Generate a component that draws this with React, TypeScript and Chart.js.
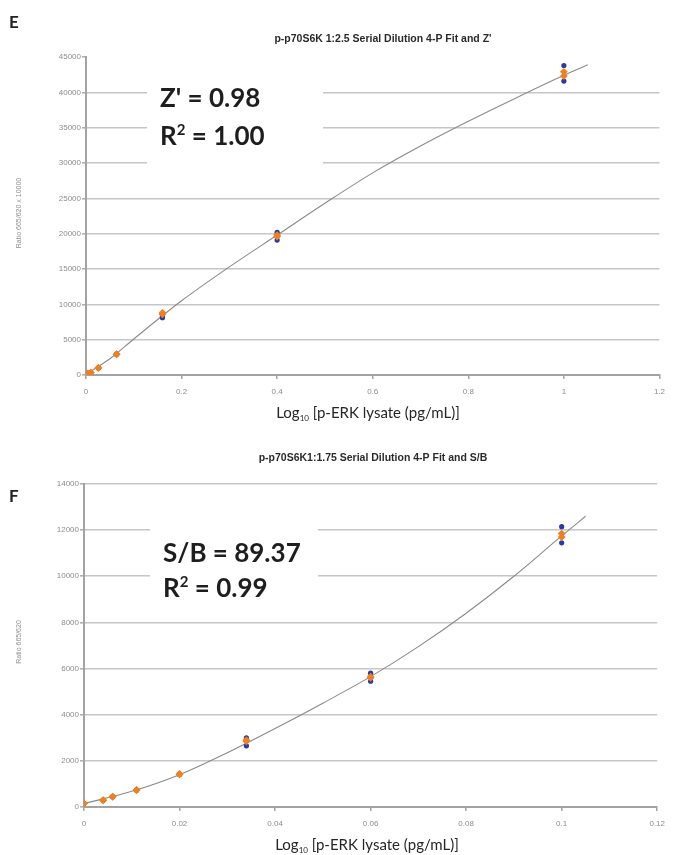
import React, { useEffect, useRef } from "react";
import { Chart, registerables } from "chart.js";

Chart.register(...registerables);

// ---------- Panel E data ----------
const eTitle = "p-p70S6K 1:2.5 Serial Dilution 4-P Fit and Z'";
const eYTitle = "Ratio 665/620 x 10000";
const eDose = [0, 0.004, 0.01, 0.026, 0.064, 0.16, 0.4, 1];
const eBlue1 = [100, 190, 310, 1010, 2950, 8100, 19100, 43800];
const eBlue2 = [120, 210, 330, 1000, 2920, 8300, 20200, 41600];
const eOrange1 = [100, 190, 310, 1010, 2950, 8800, 19600, 42900];
const eOrange2 = [120, 210, 330, 1000, 2920, 8600, 19800, 42300];
const eFitX = [0, 0.05, 0.1, 0.2, 0.3, 0.4, 0.5, 0.6, 0.7, 0.8, 0.9, 1.0, 1.05];
const eFitY = [100, 2300, 5100, 10500, 15300, 19800, 24300, 28600, 32400, 35900, 39200, 42400, 43900];
const eXTicks = [0, 0.2, 0.4, 0.6, 0.8, 1, 1.2];
const eYTicks = [0, 5000, 10000, 15000, 20000, 25000, 30000, 35000, 40000, 45000];
const eStat1 = ["Z' = 0.98"];
const eStat2 = ["1.00"];

// ---------- Panel F data ----------
const fTitle = "p-p70S6K1:1.75 Serial Dilution 4-P Fit and S/B";
const fYTitle = "Ratio 665/620";
const fDose = [0, 0.004, 0.006, 0.011, 0.02, 0.034, 0.06, 0.1];
const fBlue1 = [150, 300, 450, 740, 1430, 3000, 5800, 12150];
const fBlue2 = [160, 290, 440, 730, 1410, 2650, 5450, 11450];
const fOrange1 = [150, 300, 450, 740, 1430, 2850, 5600, 11700];
const fOrange2 = [160, 290, 440, 730, 1410, 2900, 5650, 11850];
const fFitX = [0, 0.01, 0.02, 0.03, 0.04, 0.05, 0.06, 0.07, 0.08, 0.09, 0.1, 0.105];
const fFitY = [150, 680, 1400, 2350, 3400, 4500, 5650, 6950, 8400, 10000, 11750, 12600];
const fXTicks = [0, 0.02, 0.04, 0.06, 0.08, 0.1, 0.12];
const fYTicks = [0, 2000, 4000, 6000, 8000, 10000, 12000, 14000];
const fStat1 = ["S/B = 89.37"];
const fStat2 = ["0.99"];

const xTitleParts = ["Log", "10", " [p-ERK lysate (pg/mL)]"];

const BLUE = "#2b3aa3";
const ORANGE = "#f07f1f";

function pts(xs: number[], ys: number[]) {
  return xs.map((x, i) => ({ x, y: ys[i] }));
}

function drawRuns(ctx: CanvasRenderingContext2D, runs: { t: string; font: string; dy: number }[], cx: number, y: number, align: "center" | "left") {
  let total = 0;
  const widths = runs.map((r) => {
    ctx.font = r.font;
    const w = ctx.measureText(r.t).width;
    total += w;
    return w;
  });
  let x = align === "center" ? cx - total / 2 : cx;
  runs.forEach((r, i) => {
    ctx.font = r.font;
    ctx.fillText(r.t, x, y + r.dy);
    x += widths[i];
  });
}

interface PanelCfg {
  letter: string;
  letterY: number;
  title: string;
  titleY: number;
  titleX: number;
  yTitle: string;
  yTitleY: number;
  box: [number, number, number, number];
  stat1: string;
  stat2: string;
  statX: number;
  stat1Y: number;
  stat2Y: number;
  xTitleY: number;
  xTitleX: number;
}

function decor(cfg: PanelCfg) {
  return {
    id: "decor",
    beforeDatasetsDraw(chart: any) {
      const ctx = chart.ctx as CanvasRenderingContext2D;
      ctx.save();
      ctx.fillStyle = "#ffffff";
      ctx.fillRect(cfg.box[0], cfg.box[1], cfg.box[2], cfg.box[3]);
      ctx.restore();
    },
    afterDraw(chart: any) {
      const ctx = chart.ctx as CanvasRenderingContext2D;
      ctx.save();
      ctx.textBaseline = "alphabetic";
      ctx.fillStyle = "#222";
      ctx.textAlign = "left";
      ctx.font = "bold 17px Lato, 'Open Sans', sans-serif";
      ctx.fillText(cfg.letter, 9, cfg.letterY);
      ctx.fillStyle = "#2a2a2a";
      ctx.textAlign = "center";
      ctx.font = "bold 10.5px Arial, 'Liberation Sans', sans-serif";
      ctx.fillText(cfg.title, cfg.titleX, cfg.titleY);
      ctx.textAlign = "left";
      ctx.fillStyle = "#1e1e1e";
      const big = "bold 26px Lato, sans-serif";
      const small = "bold 15px Lato, sans-serif";
      ctx.font = big;
      ctx.fillText(cfg.stat1, cfg.statX, cfg.stat1Y);
      drawRuns(
        ctx,
        [
          { t: "R", font: big, dy: 0 },
          { t: "2", font: small, dy: -10 },
          { t: " = " + cfg.stat2, font: big, dy: 0 },
        ],
        cfg.statX,
        cfg.stat2Y,
        "left"
      );
      ctx.fillStyle = "#262626";
      drawRuns(
        ctx,
        [
          { t: xTitleParts[0], font: "15px Lato, sans-serif", dy: 0 },
          { t: xTitleParts[1], font: "8px Lato, sans-serif", dy: 3 },
          { t: xTitleParts[2], font: "15px Lato, sans-serif", dy: 0 },
        ],
        cfg.xTitleX,
        cfg.xTitleY,
        "center"
      );
      ctx.save();
      ctx.translate(21, cfg.yTitleY);
      ctx.rotate(-Math.PI / 2);
      ctx.textAlign = "center";
      ctx.fillStyle = "#8f8f8f";
      ctx.font = "7px Arial, sans-serif";
      ctx.fillText(cfg.yTitle, 0, 0);
      ctx.restore();
      ctx.restore();
    },
  };
}

function fmt(v: number) {
  return String(Number(v.toFixed(3)));
}

function makeConfig(o: {
  dose: number[];
  b1: number[];
  b2: number[];
  o1: number[];
  o2: number[];
  fitX: number[];
  fitY: number[];
  xTicks: number[];
  yTicks: number[];
  yWidth: number;
  xHeight: number;
  padTop: number;
  padRight: number;
  hideTopGrid: boolean;
  cfg: PanelCfg;
}) {
  const xMax = o.xTicks[o.xTicks.length - 1];
  const yMax = o.yTicks[o.yTicks.length - 1];
  const xStep = o.xTicks[1] - o.xTicks[0];
  const yStep = o.yTicks[1] - o.yTicks[0];
  // Chart.js paints the first dataset on top, so orange comes first and the fit line last.
  return {
    type: "scatter" as const,
    data: {
      datasets: [
        { label: "rep3", data: pts(o.dose, o.o1), pointStyle: "rectRot", pointRadius: 3.9, backgroundColor: ORANGE, borderColor: ORANGE, borderWidth: 0 },
        { label: "rep4", data: pts(o.dose, o.o2), pointStyle: "rectRot", pointRadius: 3.9, backgroundColor: ORANGE, borderColor: ORANGE, borderWidth: 0 },
        { label: "rep1", data: pts(o.dose, o.b1), pointStyle: "circle", pointRadius: 2.6, backgroundColor: BLUE, borderColor: BLUE, borderWidth: 0 },
        { label: "rep2", data: pts(o.dose, o.b2), pointStyle: "circle", pointRadius: 2.6, backgroundColor: BLUE, borderColor: BLUE, borderWidth: 0 },
        {
          label: "fit",
          data: pts(o.fitX, o.fitY),
          showLine: true,
          borderColor: "#8a8a8a",
          borderWidth: 1.1,
          pointRadius: 0,
          cubicInterpolationMode: "monotone",
          fill: false,
        },
      ],
    },
    options: {
      responsive: false,
      animation: false as const,
      devicePixelRatio: 1,
      layout: { padding: { top: o.padTop, right: o.padRight, left: 0, bottom: 0 } },
      plugins: { legend: { display: false }, tooltip: { enabled: false }, title: { display: false } },
      scales: {
        x: {
          type: "linear" as const,
          min: 0,
          max: xMax,
          afterBuildTicks: (s: any) => {
            s.ticks = o.xTicks.map((v) => ({ value: v }));
          },
          ticks: {
            stepSize: xStep,
            autoSkip: false,
            maxRotation: 0,
            color: "#8c8c8c",
            font: { family: "Arial, sans-serif", size: 8 },
            padding: 8,
            callback: (v: any) => fmt(Number(v)),
          },
          grid: { drawOnChartArea: false, drawTicks: true, tickLength: 4, color: "#a3a3a3", lineWidth: 1.5 },
          border: { color: "#a3a3a3", width: 2 },
          afterFit: (s: any) => {
            s.height = o.xHeight;
          },
        },
        y: {
          type: "linear" as const,
          min: 0,
          max: yMax,
          afterBuildTicks: (s: any) => {
            s.ticks = o.yTicks.map((v) => ({ value: v }));
          },
          ticks: {
            stepSize: yStep,
            autoSkip: false,
            color: "#8c8c8c",
            font: { family: "Arial, sans-serif", size: 8 },
            padding: 1,
            callback: (v: any) => fmt(Number(v)),
          },
          grid: {
            drawTicks: true,
            tickLength: 4,
            lineWidth: 1.6,
            color: (c: any) => (o.hideTopGrid && c.tick && c.tick.value === yMax ? "rgba(0,0,0,0)" : "#c6c6c6"),
            tickColor: "#b0b0b0",
          },
          border: { color: "#a3a3a3", width: 2 },
          afterFit: (s: any) => {
            s.width = o.yWidth;
          },
        },
      },
    },
    plugins: [decor(o.cfg)],
  };
}

function Panel(props: { top: number; height: number; config: any }) {
  const ref = useRef<HTMLCanvasElement | null>(null);
  useEffect(() => {
    if (!ref.current) return;
    const chart = new Chart(ref.current, props.config);
    return () => chart.destroy();
  }, []);
  return (
    <canvas
      ref={ref}
      width={673}
      height={props.height}
      style={{ position: "absolute", left: 0, top: props.top, width: 673, height: props.height }}
    />
  );
}

export default function App() {
  const eConfig = makeConfig({
    dose: eDose,
    b1: eBlue1,
    b2: eBlue2,
    o1: eOrange1,
    o2: eOrange2,
    fitX: eFitX,
    fitY: eFitY,
    xTicks: eXTicks,
    yTicks: eYTicks,
    yWidth: 86,
    xHeight: 53,
    padTop: 57,
    padRight: 8,
    hideTopGrid: true,
    cfg: {
      letter: "E",
      letterY: 28,
      title: eTitle,
      titleX: 383,
      titleY: 42,
      yTitle: eYTitle,
      yTitleY: 213,
      box: [147, 72, 176, 96],
      stat1: eStat1[0],
      stat2: eStat2[0],
      statX: 160,
      stat1Y: 107,
      stat2Y: 145,
      xTitleX: 368,
      xTitleY: 418,
    },
  });
  const fConfig = makeConfig({
    dose: fDose,
    b1: fBlue1,
    b2: fBlue2,
    o1: fOrange1,
    o2: fOrange2,
    fitX: fFitX,
    fitY: fFitY,
    xTicks: fXTicks,
    yTicks: fYTicks,
    yWidth: 84,
    xHeight: 48,
    padTop: 54,
    padRight: 13,
    hideTopGrid: false,
    cfg: {
      letter: "F",
      letterY: 72,
      title: fTitle,
      titleX: 373,
      titleY: 31,
      yTitle: fYTitle,
      yTitleY: 212,
      box: [150, 80, 168, 97],
      stat1: fStat1[0],
      stat2: fStat2[0],
      statX: 163,
      stat1Y: 132,
      stat2Y: 167,
      xTitleX: 367,
      xTitleY: 420,
    },
  });
  return (
    <div style={{ position: "absolute", left: 0, top: 0, width: 673, height: 855, background: "#fff", overflow: "hidden" }}>
      <Panel top={0} height={428} config={eConfig} />
      <Panel top={430} height={425} config={fConfig} />
    </div>
  );
}
